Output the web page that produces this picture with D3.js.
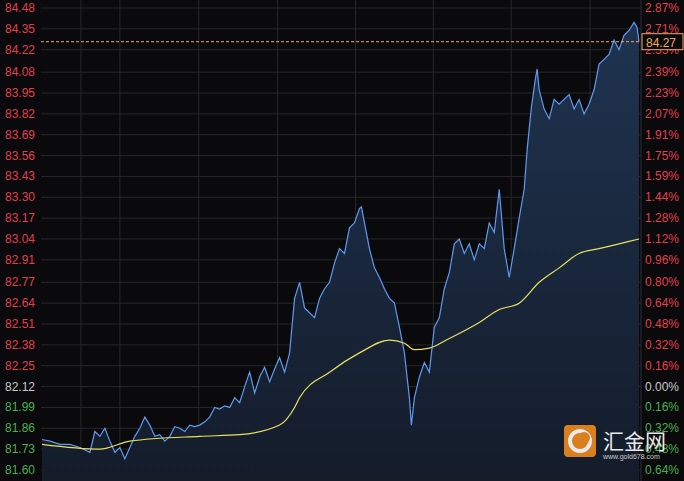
<!DOCTYPE html>
<html><head><meta charset="utf-8">
<script src="https://cdn.jsdelivr.net/npm/d3@7"></script>
<style>body{margin:0;background:#0a0a0c}svg{display:block}</style>
</head><body><div id="chart"></div>
<script>
// minutes since open, price
const times = [0,8,18,28,38,48,53,58,63,68,73,78,83,88,93,98,103,108,113,118,123,128,133,138,143,148,153,158,163,168,173,178,183,188,193,198,203,208,213,218,223,228,233,238,243,248,253,258,263,268,273,278,283,288,293,298,303,308,313,318,320,323,328,333,338,343,348,353,358,363,368,370,373,378,383,388,393,398,403,408,413,418,423,428,433,438,443,448,453,458,463,468,473,478,483,486,490,494,496,498,503,508,513,518,523,528,533,538,543,548,553,558,563,568,573,578,583,588,593,596,598]
const price = [81.79,81.78,81.76,81.76,81.74,81.71,81.84,81.81,81.86,81.78,81.71,81.74,81.67,81.74,81.81,81.86,81.93,81.88,81.81,81.82,81.78,81.81,81.87,81.86,81.84,81.88,81.87,81.88,81.90,81.93,81.99,81.98,82.00,81.99,82.05,82.02,82.12,82.21,82.08,82.18,82.24,82.15,82.23,82.30,82.21,82.33,82.67,82.77,82.61,82.58,82.55,82.67,82.73,82.77,82.89,82.98,82.95,83.11,83.14,83.23,83.24,83.14,82.98,82.86,82.80,82.73,82.67,82.64,82.49,82.33,82.05,81.88,82.05,82.18,82.27,82.21,82.49,82.55,82.73,82.83,83.01,83.04,82.95,83.01,82.91,83.01,82.98,83.14,83.08,83.35,82.98,82.80,82.98,83.17,83.35,83.60,83.85,84.03,84.10,83.97,83.85,83.79,83.91,83.88,83.91,83.94,83.85,83.91,83.82,83.88,83.97,84.13,84.16,84.19,84.28,84.22,84.31,84.34,84.39,84.36,84.27]
const avgTimes = [0,58,88,158,198,238,253,258,288,318,348,363,373,388,408,438,458,478,498,518,538,558,578,598]
const avgPrice = [81.76,81.73,81.78,81.81,81.82,81.88,81.99,82.05,82.21,82.33,82.41,82.39,82.35,82.36,82.42,82.52,82.60,82.64,82.77,82.86,82.95,82.98,83.01,83.04]
const priceTicks = [84.48,84.35,84.22,84.08,83.95,83.82,83.69,83.56,83.43,83.30,83.17,83.04,82.91,82.77,82.64,82.51,82.38,82.25,82.12,81.99,81.86,81.73,81.60]
const pctTicks = ['2.87%','2.71%','2.55%','2.39%','2.23%','2.07%','1.91%','1.75%','1.59%','1.44%','1.28%','1.12%','0.96%','0.80%','0.64%','0.48%','0.32%','0.16%','0.00%','0.16%','0.32%','0.48%','0.64%']
const baseIdx = 18
const lastPrice = 84.27
const timeGrid = [39,78,157,236,314,392,470,549]

const W = 684, H = 481
const m = {left: 41, right: 43, top: 8, bottom: 11}
const svg = d3.select('#chart').append('svg').attr('width', W).attr('height', H)
svg.append('rect').attr('width', W).attr('height', H).attr('fill', '#0a0a0c')

const x = d3.scaleLinear().domain([0, 598]).range([m.left + 1, W - m.right - 2])
const y = d3.scaleLinear().domain([81.60, 84.48]).range([H - m.bottom, m.top])

const g = svg.append('g')
g.selectAll('.hg').data(priceTicks).join('line')
  .attr('x1', m.left).attr('x2', W - m.right).attr('y1', d => y(d)).attr('y2', d => y(d))
  .attr('stroke', '#26272c').attr('stroke-width', 1)
g.selectAll('.vg').data(timeGrid).join('line')
  .attr('x1', d => x(d)).attr('x2', d => x(d)).attr('y1', 0).attr('y2', H)
  .attr('stroke', '#26272c')
g.append('line').attr('x1', W - m.right).attr('x2', W - m.right).attr('y1', 0).attr('y2', H).attr('stroke', '#2e2f35')

const defs = svg.append('defs')
const grad = defs.append('linearGradient').attr('id', 'fill').attr('x1', 0).attr('x2', 0).attr('y1', 0).attr('y2', 1)
grad.append('stop').attr('offset', 0).attr('stop-color', '#1f3350')
grad.append('stop').attr('offset', 1).attr('stop-color', '#141c2a')

const pts = times.map((t, i) => [t, price[i]])
svg.append('path').datum(pts)
  .attr('d', d3.area().x(d => x(d[0])).y0(H).y1(d => y(d[1])))
  .attr('fill', 'url(#fill)')
svg.append('path').datum(pts)
  .attr('d', d3.line().x(d => x(d[0])).y(d => y(d[1])))
  .attr('fill', 'none').attr('stroke', '#5f9af0').attr('stroke-width', 1.2)
svg.append('path').datum(avgTimes.map((t, i) => [t, avgPrice[i]]))
  .attr('d', d3.line().x(d => x(d[0])).y(d => y(d[1])).curve(d3.curveMonotoneX))
  .attr('fill', 'none').attr('stroke', '#e8e060').attr('stroke-width', 1.2)

svg.append('line').attr('x1', m.left).attr('x2', W - m.right)
  .attr('y1', y(lastPrice)).attr('y2', y(lastPrice))
  .attr('stroke', '#f0a860').attr('stroke-dasharray', '3,2')

const col = i => i < baseIdx ? '#e0404c' : i > baseIdx ? '#4cae52' : '#c8c8c8'
svg.selectAll('.lt').data(priceTicks).join('text')
  .attr('x', 5).attr('y', d => y(d) + 4).text(d => d.toFixed(2))
  .attr('fill', (d, i) => col(i)).attr('font-family', 'Arial, Liberation Sans').attr('font-size', 12)
svg.selectAll('.rt').data(pctTicks).join('text')
  .attr('x', 645).attr('y', (d, i) => y(priceTicks[i]) + 4).text(d => d)
  .attr('fill', (d, i) => col(i)).attr('font-family', 'Arial, Liberation Sans').attr('font-size', 12)

// last price box
const ly = y(lastPrice)
svg.append('rect').attr('x', 642).attr('y', ly - 8).attr('width', 41).attr('height', 16)
  .attr('fill', '#0a0a0c').attr('stroke', '#f0a860')
svg.append('text').attr('x', 646).attr('y', ly + 5).text(lastPrice.toFixed(2))
  .attr('fill', '#f0a860').attr('font-family', 'Arial, Liberation Sans').attr('font-size', 12)

// watermark
const wm = svg.append('g').attr('opacity', 0.9)
wm.append('rect').attr('x', 564).attr('y', 425).attr('width', 32).attr('height', 32).attr('rx', 4).attr('fill', '#f08a1c')
wm.append('circle').attr('cx', 580).attr('cy', 441).attr('r', 10).attr('fill', 'none').attr('stroke', '#fff').attr('stroke-width', 4)
wm.append('circle').attr('cx', 584).attr('cy', 438).attr('r', 6).attr('fill', '#f08a1c')
wm.append('text').attr('x', 603).attr('y', 449).text('汇金网')
  .attr('fill', '#fff').attr('font-family', 'Noto Sans CJK SC').attr('font-size', 21)
wm.append('text').attr('x', 603).attr('y', 459).text('www.gold678.com')
  .attr('fill', '#ddd').attr('font-family', 'Arial, Liberation Sans').attr('font-size', 7)
</script></body></html>
